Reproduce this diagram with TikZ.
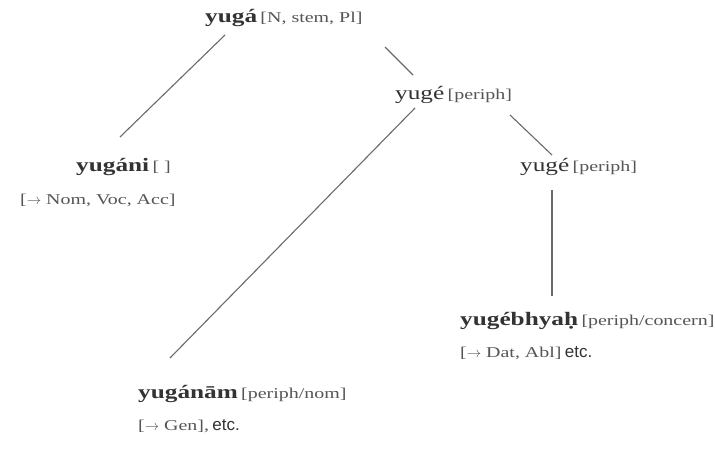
\documentclass[tikz,border=0pt]{standalone}
\usepackage{fontspec}
\setmainfont{Liberation Serif}[FakeStretch=1.33]
\newfontfamily\etcfont{Liberation Sans}
\usetikzlibrary{calc}
\definecolor{ink}{HTML}{333333}
\definecolor{soft}{HTML}{555555}
\definecolor{edgecol}{HTML}{6A6A6A}
\newcommand{\hwb}[1]{{\fontsize{19}{22}\selectfont\bfseries #1}}
\newcommand{\hwr}[1]{{\fontsize{19}{22}\selectfont #1}}
\newcommand{\tg}[1]{{\fontsize{15}{18}\selectfont\color{soft}#1}}
\newcommand{\etcw}{{\etcfont\fontsize{17}{20}\selectfont etc.}}
\newcommand{\arr}{\ensuremath{\rightarrow}}
\begin{document}
\begin{tikzpicture}[x=1pt,y=-1pt,
  lab/.style={anchor=base west, inner sep=0pt, text=ink},
  branch/.style={draw=edgecol, line width=1.1pt}]
\useasboundingbox[fill=white] (0,0) rectangle (715,449);
% nodes
\node[lab] (top) at (205,23) {\hwb{yugá} \tg{[N, stem, Pl]}};
\node[lab] (pa)  at (395,100) {\hwr{yugé} \tg{[periph]}};
\node[lab] (pb)  at (520,172) {\hwr{yugé} \tg{[periph]}};
\node[lab] (ni)  at (76,172) {\hwb{yugáni} \tg{[ ]}};
\node[lab] (nic) at (20,205) {\tg{[\arr{} Nom, Voc, Acc]}};
\node[lab] (da)  at (460,325) {\hwb{yugébhyaḥ} \tg{[periph/concern]}};
\node[lab] (dac) at (460,357) {\tg{[\arr{} Dat, Abl]} \etcw};
\node[lab] (ge)  at (138,398) {\hwb{yugánām} \tg{[periph/nom]}};
\node[lab] (gec) at (138,430) {\tg{[\arr{} Gen],} \etcw};
% connectors
\draw[branch] ($(top.base west)+(20,12)$) -- ($(ni.base west)+(44,-35)$);
\draw[branch] ($(top.base west)+(180,24)$) -- ($(pa.base west)+(18,-25)$);
\draw[branch] ($(pa.base west)+(20,8)$) -- ($(ge.base west)+(32,-40)$);
\draw[branch] ($(pa.base west)+(115,15)$) -- ($(pb.base west)+(32,-17)$);
\draw[branch] ($(pb.base west)+(32,18)$) -- ($(da.base west)+(92,-29)$);
\end{tikzpicture}
\end{document}
